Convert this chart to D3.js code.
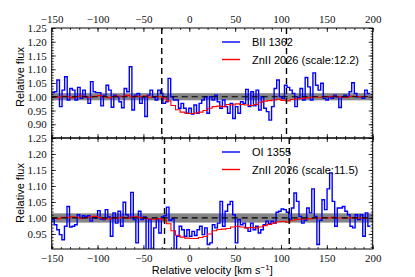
<!DOCTYPE html>
<html>
<head>
<meta charset="utf-8">
<script src="https://cdn.jsdelivr.net/npm/d3@7"></script>
<style>
  body { margin: 0; background: #fff; }
  .tick text { font-family: "Liberation Serif", serif; font-size: 11px; fill: #111; }
  .lbl { font-family: "Liberation Sans", Arial, sans-serif; font-size: 11px; fill: #000; }
</style>
</head>
<body>
<div id="chart"></div>
<script>
// Données
const binStart = -150;
const binWidthTop = 2.82;
const binWidthBottom = 2.78;

// BII 1362 (panneau du haut)
const bIIFlux = [
  1.015, 1.018, 1.061, 0.964, 1.024, 1.073, 0.988, 1.030, 1.024, 0.988,
  1.034, 0.994, 1.024, 0.998, 0.976, 1.055, 1.018, 1.015, 1.015, 0.967,
  1.006, 1.042, 1.024, 0.962, 1.006, 1.000, 0.982, 0.960, 1.030, 1.018,
  1.109, 0.952, 1.006, 1.012, 0.976, 0.998, 0.928, 1.006, 1.024, 0.998,
  0.988, 1.024, 1.012, 0.976, 0.982, 1.067, 1.000, 0.988, 0.988, 0.958,
  0.976, 0.958, 0.940, 0.958, 0.937, 0.970, 0.940, 0.976, 0.988, 1.000,
  0.940, 1.000, 0.988, 1.006, 0.982, 0.958, 0.988, 0.964, 0.940, 0.976,
  0.921, 0.964, 0.940, 0.982, 0.976, 1.027, 0.964, 1.018, 0.967, 1.024,
  0.952, 1.000, 0.958, 0.946, 0.915, 0.964, 1.030, 1.061, 1.000, 0.994,
  1.042, 1.034, 1.024, 1.012, 0.964, 0.998, 1.030, 0.988, 1.070, 1.036,
  0.988, 1.087, 1.042, 1.024, 1.049, 0.994, 0.988, 1.000, 0.994, 1.006,
  1.000, 0.961, 1.000, 1.006, 1.000, 1.018, 1.051, 1.012, 1.000, 1.000,
  0.994, 1.024, 1.012
];

// OI 1355 (panneau du bas)
const oIFlux = [
  0.995, 0.979, 0.963, 0.948, 0.932, 0.974, 1.036, 0.972, 0.974, 0.979,
  1.010, 1.000, 1.007, 1.003, 1.007, 0.990, 1.003, 1.000, 1.023, 0.997,
  0.995, 1.026, 1.003, 0.943, 1.016, 0.984, 1.021, 0.974, 1.049, 1.010,
  1.000, 1.080, 0.995, 0.922, 1.021, 0.995, 1.003, 0.880, 0.995, 0.880,
  0.969, 0.995, 0.953, 1.003, 1.007, 1.034, 0.993, 0.997, 0.880, 0.943,
  0.974, 0.963, 0.943, 0.963, 0.943, 0.958, 0.945, 0.963, 0.974, 0.948,
  0.969, 0.917, 0.922, 0.979, 0.969, 0.984, 1.052, 0.974, 1.021, 1.042,
  1.052, 1.010, 0.922, 0.995, 0.979, 0.984, 0.969, 0.958, 0.984, 0.963,
  0.974, 0.953, 0.963, 0.979, 0.990, 0.982, 0.990, 0.984, 1.018, 1.021,
  1.028, 1.026, 1.018, 0.995, 1.031, 1.078, 1.052, 1.005, 0.984, 0.993,
  1.031, 1.016, 1.091, 1.005, 0.917, 0.993, 1.057, 1.026, 1.091, 1.141,
  1.052, 0.974, 1.031, 1.031, 1.036, 1.021, 1.010, 0.974, 0.969, 1.010,
  0.995, 1.010, 0.943, 1.016, 0.974
];

// ZnII 2026 mis à l'échelle, pas de 5 km/s
const znVel = d3.range(-150, 200, 5);
const znTop = [
  1.000, 0.998, 1.002, 1.000, 0.997, 1.001, 1.003, 0.999, 0.998, 1.002,
  1.004, 1.000, 0.997, 1.001, 1.003, 1.000, 1.005, 0.999, 1.002, 1.000,
  1.003, 0.998, 1.001, 1.000,
  0.996, 0.985, 0.968, 0.953, 0.944, 0.940, 0.939, 0.941, 0.944, 0.950,
  0.958, 0.964, 0.966, 0.964, 0.972, 0.970, 0.974, 0.972, 0.970, 0.968,
  0.972, 0.980, 0.984, 0.986, 0.988, 0.991, 0.987, 0.985, 0.990, 0.992,
  0.994, 0.996, 0.998, 1.000, 0.998, 1.001, 1.000, 1.002, 1.000, 0.999,
  0.998, 1.002, 1.001, 1.000, 1.001, 1.000
];
const znBottom = [
  1.000, 0.998, 1.002, 1.001, 1.004, 1.002, 0.999, 1.000, 1.003, 1.005,
  1.001, 0.998, 0.997, 1.001, 1.000, 1.002, 0.999, 1.003, 1.004, 1.001,
  0.999, 0.997, 0.996, 0.998,
  0.994, 0.982, 0.960, 0.946, 0.940, 0.937, 0.936, 0.936, 0.939, 0.942,
  0.950, 0.960, 0.964, 0.965, 0.967, 0.972, 0.974, 0.972, 0.969, 0.970,
  0.969, 0.972, 0.976, 0.980, 0.984, 0.988, 0.989, 0.987, 0.993, 0.995,
  0.997, 0.997, 0.998, 1.000, 1.000, 1.001, 1.000, 1.002, 1.000, 1.000,
  1.000, 1.001, 1.000, 1.000, 0.999, 0.999
];

const xTicks = [-150, -100, -50, 0, 50, 100, 150, 200];
const yTicksTop = [0.90, 0.95, 1.00, 1.05, 1.10, 1.15, 1.20, 1.25];
const yTicksBottom = [0.95, 1.00, 1.05, 1.10, 1.15, 1.20, 1.25];
const vLinesTop = [-30, 106];
const vLinesBottom = [-27, 109];
const legendTop = ["BII 1362", "ZnII 2026 (scale:12.2)"];
const legendBottom = ["OI 1355", "ZnII 2026 (scale:11.5)"];

// Mise en page
const width = 415, height = 277;
const left = 51.7, right = 372.7;

const panels = [
  { blue: bIIFlux, step: binWidthTop, red: znTop, domain: [0.85, 1.25], ticks: yTicksTop,
    band: 0.013, vlines: vLinesTop, legend: legendTop, top: 28, bottom: 138, labelTop: true },
  { blue: oIFlux, step: binWidthBottom, red: znBottom, domain: [0.903, 1.25], ticks: yTicksBottom,
    band: 0.0145, vlines: vLinesBottom, legend: legendBottom, top: 138, bottom: 249, labelTop: false }
];

const svg = d3.select("#chart").append("svg")
  .attr("width", width)
  .attr("height", height);

const x = d3.scaleLinear().domain([-150, 200]).range([left, right]);
const xMinor = d3.range(-150, 201, 10);

panels.forEach((p, k) => {
  const y = d3.scaleLinear().domain(p.domain).range([p.bottom, p.top]);
  const yMinor = d3.range(Math.ceil(p.domain[0] * 100), 126).map(d => d / 100);
  const g = svg.append("g");

  g.append("clipPath").attr("id", "clip" + k)
    .append("rect")
    .attr("x", left).attr("y", p.top)
    .attr("width", right - left).attr("height", p.bottom - p.top);

  const plot = g.append("g").attr("clip-path", `url(#clip${k})`);

  // bande grise autour de 1
  plot.append("rect")
    .attr("x", left).attr("width", right - left)
    .attr("y", y(1 + p.band))
    .attr("height", y(1 - p.band) - y(1 + p.band))
    .attr("fill", "#868686");

  // histogramme bleu (marches)
  const pts = p.blue.map((v, i) => [binStart + i * p.step, v]);
  pts.push([binStart + p.blue.length * p.step, p.blue[p.blue.length - 1]]);
  plot.append("path")
    .datum(pts)
    .attr("fill", "none")
    .attr("stroke", "#0000ff")
    .attr("stroke-width", 1.4)
    .attr("d", d3.line().x(d => x(d[0])).y(d => y(d[1])).curve(d3.curveStepAfter));

  // ZnII en rouge
  plot.append("path")
    .datum(znVel.map((v, i) => [v, p.red[i]]))
    .attr("fill", "none")
    .attr("stroke", "#ff0000")
    .attr("stroke-width", 1.1)
    .attr("d", d3.line().x(d => x(d[0])).y(d => y(d[1])).curve(d3.curveStepAfter));

  // ligne pointillée horizontale
  plot.append("line")
    .attr("x1", left).attr("x2", right)
    .attr("y1", y(1)).attr("y2", y(1))
    .attr("stroke", "#000").attr("stroke-width", 1.2)
    .attr("stroke-dasharray", "6,4");

  // lignes verticales
  plot.selectAll(".vline")
    .data(p.vlines)
    .enter()
    .append("line")
    .attr("x1", d => x(d)).attr("x2", d => x(d))
    .attr("y1", p.top).attr("y2", p.bottom)
    .attr("stroke", "#000").attr("stroke-width", 1.4)
    .attr("stroke-dasharray", "6,4");

  // axes : graduations vers l'intérieur
  const addAxis = (axis, tx, ty, values, size, labels) => {
    const a = g.append("g")
      .attr("transform", `translate(${tx},${ty})`)
      .call(axis.tickValues(values).tickSize(-size).tickPadding(5)
        .tickFormat(labels ? labels : ""));
    a.select(".domain").remove();
    a.selectAll(".tick line").attr("stroke", "#000").attr("stroke-width", 0.8);
    return a;
  };

  const fx = d3.format("d");
  const fy = d3.format(".2f");

  addAxis(d3.axisLeft(y), left, 0, p.ticks, 4, fy);
  addAxis(d3.axisLeft(y), left, 0, yMinor, 2, null);
  addAxis(d3.axisRight(y), right, 0, p.ticks, 4, null);
  addAxis(d3.axisRight(y), right, 0, yMinor, 2, null);
  addAxis(d3.axisTop(x), 0, p.top, xTicks, 4, p.labelTop ? fx : null);
  addAxis(d3.axisTop(x), 0, p.top, xMinor, 2, null);
  addAxis(d3.axisBottom(x), 0, p.bottom, xTicks, 4, p.labelTop ? null : fx);
  addAxis(d3.axisBottom(x), 0, p.bottom, xMinor, 2, null);

  // cadre
  g.append("rect")
    .attr("x", left).attr("y", p.top)
    .attr("width", right - left).attr("height", p.bottom - p.top)
    .attr("fill", "none").attr("stroke", "#000").attr("stroke-width", 1);

  // légende
  const lg = g.append("g");
  const colors = ["#0000ff", "#ff0000"];
  p.legend.forEach((txt, i) => {
    const ly = p.top + 14 + i * 17.5;
    lg.append("line")
      .attr("x1", 222).attr("x2", 240)
      .attr("y1", ly).attr("y2", ly)
      .attr("stroke", colors[i]).attr("stroke-width", 1.4);
    lg.append("text").attr("class", "lbl")
      .attr("x", 252).attr("y", ly + 4)
      .text(txt);
  });

  // titre de l'axe y
  g.append("text").attr("class", "lbl")
    .attr("transform", `translate(24,${k === 0 ? 77 : 193}) rotate(-90)`)
    .attr("text-anchor", "middle")
    .text("Relative flux");
});

// titre de l'axe x
const xl = svg.append("text").attr("class", "lbl")
  .attr("x", (left + right) / 2).attr("y", 274)
  .attr("text-anchor", "middle");
xl.append("tspan").text("Relative velocity [km s");
xl.append("tspan").attr("dy", -4).attr("font-size", "8px").text("\u22121");
xl.append("tspan").attr("dy", 4).text("]");
</script>
</body>
</html>
